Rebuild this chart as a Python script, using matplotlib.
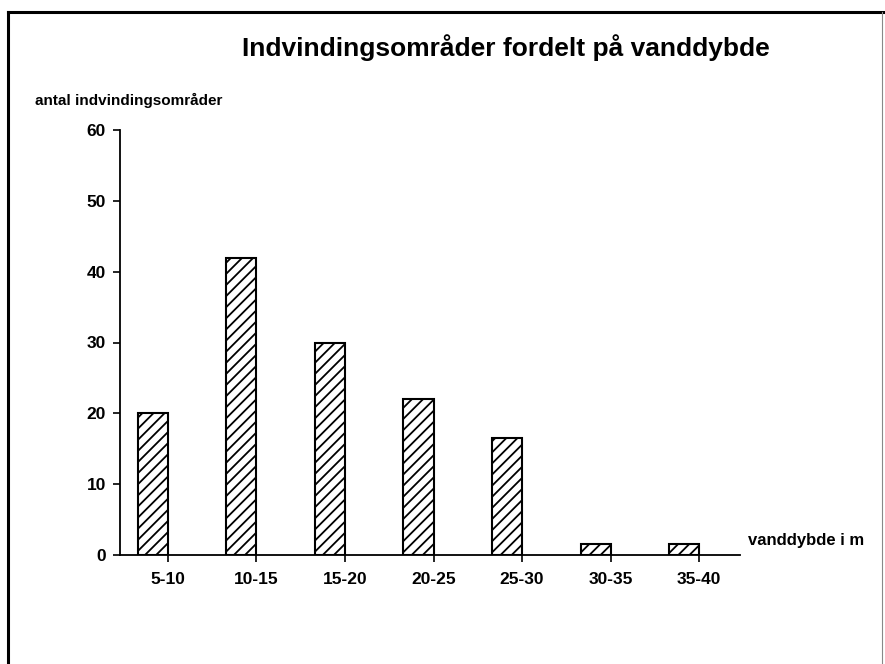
import matplotlib
matplotlib.use("Agg")
import matplotlib.pyplot as plt
from matplotlib.lines import Line2D

categories = ["5-10", "10-15", "15-20", "20-25", "25-30", "30-35", "35-40"]
values = [20, 42, 30, 22, 16.5, 1.5, 1.5]
yticks = [0, 10, 20, 30, 40, 50, 60]

plt.rcParams['font.family'] = ['Liberation Sans', 'DejaVu Sans']
plt.rcParams['hatch.linewidth'] = 1.3

fig = plt.figure(figsize=(8.85, 6.64), dpi=100)
W, H = 885, 664

ax = fig.add_axes([120 / W, 109 / H, 620 / W, 425 / H])
x = list(range(len(categories)))
ax.bar(x, values, width=-0.34, align='edge', facecolor='white',
       edgecolor='black', linewidth=1.5, hatch='///')
ax.set_xlim(-0.54, 6.46)
ax.set_ylim(0, 60)
ax.set_yticks(yticks)
ax.set_yticklabels([str(t) for t in yticks], fontsize=12.5, fontweight='bold')
ax.set_xticks(x)
ax.set_xticklabels(categories, fontsize=12.5, fontweight='bold')
ax.tick_params(axis='both', direction='out', length=5, width=1.2, pad=5)
ax.tick_params(axis='x', pad=7)
for s in ['top', 'right']:
    ax.spines[s].set_visible(False)
ax.spines['left'].set_linewidth(1.3)
ax.spines['bottom'].set_linewidth(1.3)

fig.text(506 / W, 1 - 48 / H, "Indvindingsområder fordelt på vanddybde",
         ha='center', va='center', fontsize=19, fontweight='bold')
fig.text(35 / W, 1 - 100 / H, "antal indvindingsområder",
         ha='left', va='center', fontsize=11, fontweight='bold')
fig.text(748 / W, 1 - 541 / H, "vanddybde i m",
         ha='left', va='center', fontsize=12, fontweight='bold')

# page frame
fig.add_artist(Line2D([8 / W, 8 / W], [0, 1 - 12 / H], transform=fig.transFigure,
                      color='black', linewidth=2.2))
fig.add_artist(Line2D([8 / W, 1], [1 - 12 / H, 1 - 12 / H], transform=fig.transFigure,
                      color='black', linewidth=2.2))
fig.add_artist(Line2D([882 / W, 882 / W], [0, 1 - 12 / H], transform=fig.transFigure,
                      color='#888888', linewidth=0.8))

fig.savefig("out.png", dpi=100)
